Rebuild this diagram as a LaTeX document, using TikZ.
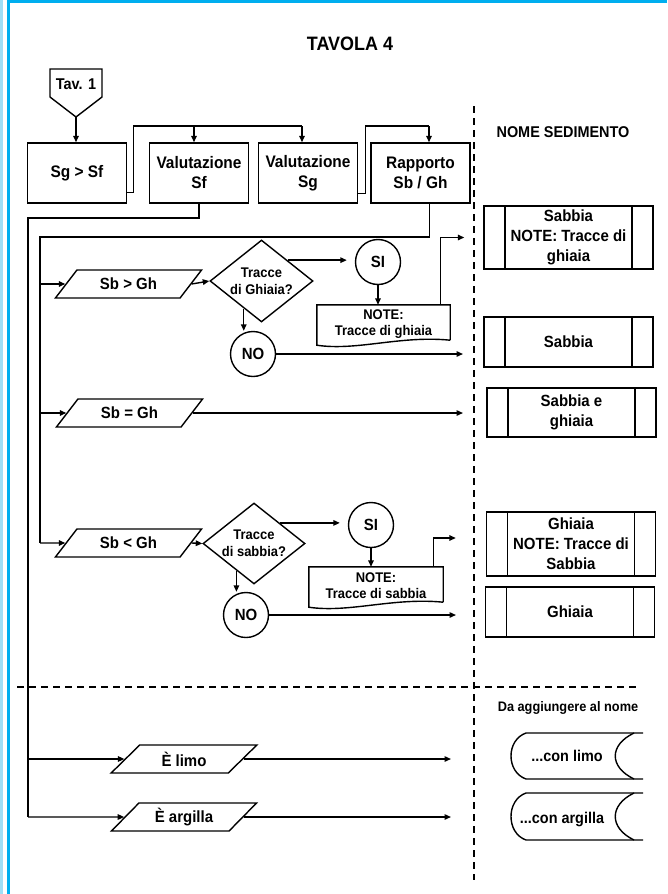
\documentclass[tikz,border=0pt]{standalone}
\usepackage{fontspec}
\setmainfont{Liberation Sans}[FakeStretch=0.925]
\usetikzlibrary{shapes.geometric,arrows.meta,calc}
\definecolor{cyanb}{RGB}{0,174,239}
\definecolor{lightb}{RGB}{160,222,246}
\begin{document}
\begin{tikzpicture}[x=1pt,y=-1pt,
  lw/.style={line width=1.4pt},
  arr/.style={lw,-{Triangle[length=6.5pt,width=5.5pt]}},
  ln/.style={lw},
  box/.style={draw,lw,minimum width=99pt,minimum height=60pt,align=center,inner sep=1pt,font=\fontsize{16.7}{20}\selectfont\bfseries},
  para/.style={draw,lw,trapezium,trapezium left angle=45,trapezium right angle=135,trapezium stretches=true,minimum width=147pt,minimum height=28pt,inner sep=0pt,font=\fontsize{16.2}{18}\selectfont\bfseries},
  dia/.style={draw,lw,diamond,inner sep=0pt},
  ctext/.style={align=center,font=\fontsize{14}{17}\selectfont\bfseries},
  circ/.style={draw,lw,circle,minimum size=45pt,inner sep=0pt,font=\fontsize{16.2}{18}\selectfont\bfseries},
  notebox/.style={minimum width=133pt,minimum height=38pt,align=center,inner sep=0pt,font=\fontsize{14}{16}\selectfont\bfseries},
  predef/.style={draw,lw,minimum width=169pt,align=center,inner sep=0pt,font=\fontsize{16.2}{20}\selectfont\bfseries,
     path picture={\draw[lw] ([xshift=21pt]path picture bounding box.north west) -- ([xshift=21pt]path picture bounding box.south west);
       \draw[lw] ([xshift=-21pt]path picture bounding box.north east) -- ([xshift=-21pt]path picture bounding box.south east);}},
  sdtext/.style={font=\fontsize{15.6}{18}\selectfont\bfseries},
  dsh/.style={lw,dash pattern=on 7pt off 5pt},
]
\fill[white] (0,0) rectangle (667,894);
\useasboundingbox (0,0) rectangle (667,894);
\fill[lightb] (0,0) rectangle (2.5,894);
\fill[cyanb] (7,0) rectangle (10,894);
\fill[cyanb] (7,0) rectangle (667,3);

% title and headers
\node[font=\fontsize{19.4}{21}\selectfont\bfseries] (title) at (350,44) {TAVOLA 4};
\node[font=\fontsize{15.6}{18}\selectfont\bfseries] (nome) at (563,132) {NOME SEDIMENTO};
\node[font=\fontsize{13.8}{15}\selectfont\bfseries] (dagg) at (568,708) {Da aggiungere al nome};

% dashed separators
\draw[dsh] (474,106) -- (474,880);
\draw[dsh] (17,687) -- (638,687);

% off-page connector
\node[font=\fontsize{15.6}{16}\selectfont\bfseries] (tav) at (76,84) {Tav. 1};
\draw[lw] (50,69) -- (102,69) -- (102,97) -- (76,117) -- (50,97) -- cycle;
\coordinate (tavtip) at (76,117);

% top boxes
\node[box] (sgsf) at (77,173) {Sg > Sf};
\node[box] (valsf) at (199,173) {Valutazione\\Sf};
\node[box] (valsg) at (308,173) {Valutazione\\Sg};
\node[box] (rapp) at (420.5,173) {Rapporto\\Sb / Gh};

\draw[arr] (tavtip) -- (tavtip |- sgsf.north);
\coordinate (t1) at (302,126);
\coordinate (t2) at (194,126);
\coordinate (t3) at (429,126);
\draw[ln] ([yshift=11pt]sgsf.south east) -- ++(6,0) |- (t1);
\draw[arr] (t1) -- (t1 |- valsg.north);
\draw[arr] (t2) -- (t2 |- valsf.north);
\draw[ln] ([yshift=10pt]valsg.south east) -- ++(7,0) |- (t3);
\draw[arr] (t3) -- (t3 |- rapp.north);

% spines
\coordinate (s1top) at (28,218);
\coordinate (s1bot) at (28,817);
\coordinate (s2top) at (40,237);
\coordinate (s2bot) at (40,543);
\draw[ln] (valsf.south) |- (s1top) -- (s1bot);
\draw[ln] ([xshift=9pt]rapp.south) |- (s2top) -- (s2bot);

% right result boxes
\node[predef,minimum height=63pt] (r1) at (568.5,237.5) {Sabbia\\NOTE: Tracce di\\ghiaia};
\node[predef,minimum height=50pt] (r2) at (568.5,342) {Sabbia};
\node[predef,minimum height=49pt] (r3) at (571.5,412.5) {Sabbia e\\ghiaia};
\node[predef,minimum height=64pt] (r4) at (571,544) {Ghiaia\\NOTE: Tracce di\\Sabbia};
\node[predef,minimum height=50pt] (r5) at (570,612) {Ghiaia};

\coordinate (xr) at (463,0);
\coordinate (xr3) at (456,0);
\coordinate (xb) at (451,0);

% row 1
\node[para] (p1) at (128.5,284) {Sb > Gh};
\node[dia,minimum width=103pt,minimum height=82pt] (d1) at (261.5,281) {};
\node[ctext] (d1t) at (d1) {Tracce\\di Ghiaia?};
\node[circ] (si1) at (378,262) {SI};
\node[notebox] (n1) at (383.5,324) {NOTE:\\Tracce di ghiaia};
\node[circ] (no1) at (253,354) {NO};
\draw[lw] ([yshift=3pt]n1.south east) -- (n1.north east) -- (n1.north west) -- ([yshift=-2pt]n1.south west)
  .. controls ([xshift=40pt,yshift=-8pt]n1.south west) and ([xshift=-50pt,yshift=8pt]n1.south east) .. ([yshift=3pt]n1.south east);
\draw[arr] (s2top |- p1.west) -- (p1.west);
\draw[arr] (p1.east) -- (d1.west);
\coordinate (a1) at ($(si1.west)+(-8,0)$);
\draw[arr] (d1.north east) -- (d1.north east -| a1);
\draw[arr] (si1.south) -- (si1.south |- n1.north);
\draw[arr] ([xshift=-10pt]n1.north east) |- ([xshift=-19pt]r1.west);
\coordinate (q1) at ($(d1.south)!0.34!(d1.west)$);
\draw[arr] (q1) -- (q1 |- no1.north);
\draw[arr] (no1.east) -- (no1.east -| xr);

% row 2
\node[para] (p2) at (129.5,413) {Sb = Gh};
\draw[arr] (s2top |- p2.west) -- (p2.west);
\draw[arr] (p2.east) -- (p2.east -| xr);

% row 3
\node[para] (p3) at (128.5,543) {Sb < Gh};
\node[dia,minimum width=102pt,minimum height=81pt] (d3) at (254,543.5) {};
\node[ctext] (d3t) at (d3) {Tracce\\di sabbia?};
\node[circ] (si3) at (371,525) {SI};
\node[notebox,minimum width=134pt] (n3) at (376,586) {NOTE:\\Tracce di sabbia};
\node[circ] (no3) at (246,615) {NO};
\draw[lw] ([yshift=3pt]n3.south east) -- (n3.north east) -- (n3.north west) -- ([yshift=-2pt]n3.south west)
  .. controls ([xshift=40pt,yshift=-8pt]n3.south west) and ([xshift=-50pt,yshift=8pt]n3.south east) .. ([yshift=3pt]n3.south east);
\draw[arr] (s2bot) -- (p3.west);
\draw[arr] (p3.east) -- (d3.west);
\coordinate (a3) at ($(si3.west)+(-8,0)$);
\draw[arr] (d3.north east) -- (d3.north east -| a3);
\draw[arr] (si3.south) -- (si3.south |- n3.north);
\draw[arr] ([xshift=-10pt]n3.north east) |- ($(r4.west)+(-30,-6)$);
\coordinate (q3) at ($(d3.south)!0.34!(d3.west)$);
\draw[arr] (q3) -- (q3 |- no3.north);
\draw[arr] (no3.east) -- (no3.east -| xr3);

% bottom part
\node[para,minimum width=146pt] (p4) at (184,759) {È limo};
\node[para,minimum width=146pt] (p5) at (184,817) {È argilla};
\draw[arr] (s1top |- p4.west) -- (p4.west);
\draw[arr] (s1bot) -- (p5.west);
\draw[arr] (p4.east) -- (p4.east -| xb);
\draw[arr] (p5.east) -- (p5.east -| xb);

% stored data shapes
\node[sdtext] (sd1) at (567,756) {...con limo};
\node[sdtext] (sd2) at (562,819) {...con argilla};
\draw[lw] (643,733) -- (526,733) .. controls (506,740) and (506,772) .. (526,779) -- (643,779);
\draw[lw] (634,733) .. controls (609,745) and (609,767) .. (634,779);
\draw[lw] (643,793) -- (526,793) .. controls (506,800) and (506,833) .. (526,840) -- (643,840);
\draw[lw] (634,793) .. controls (609,805) and (609,828) .. (634,840);
\end{tikzpicture}
\end{document}
